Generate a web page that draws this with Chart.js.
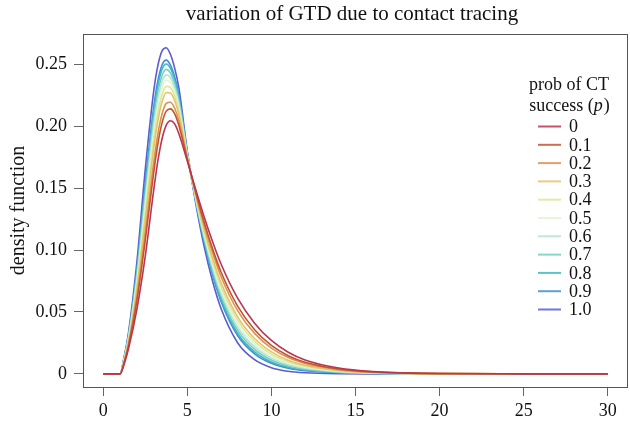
<!DOCTYPE html>
<html>
<head>
<meta charset="utf-8">
<script src="https://cdn.jsdelivr.net/npm/chart.js@4.4.1/dist/chart.umd.min.js"></script>
<style>
  html, body { margin: 0; padding: 0; background: #fff; }
  #grafica { display: block; }
</style>
</head>
<body>
<canvas id="grafica" width="630" height="423"></canvas>
<script>
// generation time distribution for several contact-tracing success probabilities
const tiempos = [0, 1, 1.25, 1.5, 2, 2.5, 3, 3.25, 3.5, 3.75, 4, 4.25, 4.5, 5, 5.5, 6, 6.5, 7, 8, 9, 10, 11, 12, 14, 16, 20, 25, 30];

const p00 = [0, 0, 0.008, 0.020, 0.052, 0.095, 0.148, 0.172, 0.190, 0.201, 0.2045, 0.202, 0.194, 0.172, 0.149, 0.127, 0.107, 0.089, 0.061, 0.041, 0.027, 0.0175, 0.0113, 0.0047, 0.0019, 0.0003, 0.00003, 0];
const p01 = [0, 0, 0.0091, 0.0223, 0.0588, 0.1076, 0.1624, 0.1859, 0.2028, 0.2123, 0.2141, 0.2101, 0.2007, 0.1734, 0.1470, 0.1227, 0.1012, 0.0825, 0.0545, 0.0357, 0.0230, 0.0147, 0.0094, 0.0039, 0.0016, 0.00025, 0.00003, 0];
const p02 = [0, 0, 0.0097, 0.0236, 0.0626, 0.1146, 0.1704, 0.1936, 0.2099, 0.2185, 0.2195, 0.2146, 0.2044, 0.1742, 0.1459, 0.1203, 0.0980, 0.0789, 0.0509, 0.0327, 0.0208, 0.0132, 0.0084, 0.0034, 0.0014, 0.00022, 0.00002, 0];
const p03 = [0, 0, 0.0105, 0.0255, 0.0680, 0.1244, 0.1816, 0.2043, 0.2198, 0.2273, 0.2270, 0.2209, 0.2095, 0.1754, 0.1444, 0.1169, 0.0936, 0.0739, 0.0459, 0.0286, 0.0178, 0.0110, 0.0069, 0.0028, 0.0011, 0.00017, 0.00002, 0];
const p04 = [0, 0, 0.0110, 0.0265, 0.0710, 0.1300, 0.1880, 0.2105, 0.2255, 0.2323, 0.2313, 0.2245, 0.2125, 0.1760, 0.1435, 0.1150, 0.0910, 0.0710, 0.0430, 0.0263, 0.0160, 0.0098, 0.0061, 0.0024, 0.0010, 0.00015, 0.00002, 0];
const p05 = [0, 0, 0.0115, 0.0275, 0.0740, 0.1356, 0.1944, 0.2167, 0.2312, 0.2373, 0.2355, 0.2281, 0.2155, 0.1766, 0.1426, 0.1131, 0.0884, 0.0681, 0.0401, 0.0239, 0.0142, 0.0086, 0.0053, 0.0021, 0.0008, 0.00013, 0.00001, 0];
const p06 = [0, 0, 0.0119, 0.0285, 0.0767, 0.1405, 0.2000, 0.2221, 0.2362, 0.2416, 0.2393, 0.2313, 0.2181, 0.1772, 0.1419, 0.1114, 0.0862, 0.0656, 0.0376, 0.0218, 0.0127, 0.0075, 0.0045, 0.0017, 0.0007, 0.0001, 0.00001, 0];
const p07 = [0, 0, 0.0123, 0.0294, 0.0794, 0.1454, 0.2056, 0.2274, 0.2411, 0.2460, 0.2430, 0.2344, 0.2206, 0.1778, 0.1411, 0.1097, 0.0840, 0.0631, 0.0351, 0.0198, 0.0112, 0.0064, 0.0038, 0.0014, 0.00055, 0.00008, 0.00001, 0];
const p08 = [0, 0, 0.0127, 0.0303, 0.0820, 0.1503, 0.2112, 0.2328, 0.2461, 0.2504, 0.2468, 0.2376, 0.2232, 0.1783, 0.1403, 0.1080, 0.0817, 0.0606, 0.0326, 0.0177, 0.0096, 0.0053, 0.0031, 0.0011, 0.0004, 0.00006, 0.00001, 0];
const p09 = [0, 0, 0.0130, 0.0309, 0.0839, 0.1538, 0.2152, 0.2367, 0.2496, 0.2535, 0.2494, 0.2398, 0.2251, 0.1787, 0.1398, 0.1068, 0.0801, 0.0588, 0.0308, 0.0162, 0.0085, 0.0046, 0.0026, 0.0009, 0.0003, 0.00005, 0.00001, 0];
const p10 = [0, 0, 0.014, 0.033, 0.090, 0.165, 0.228, 0.249, 0.261, 0.2635, 0.258, 0.247, 0.231, 0.180, 0.138, 0.103, 0.075, 0.053, 0.025, 0.0115, 0.005, 0.0021, 0.0009, 0.00015, 0.00002, 0, 0, 0];

const series = [p00, p01, p02, p03, p04, p05, p06, p07, p08, p09, p10];
const etiquetas = ['0', '0.1', '0.2', '0.3', '0.4', '0.5', '0.6', '0.7', '0.8', '0.9', '1.0'];
const colores = ['#bb3450', '#c0562e', '#dd9150', '#e6c26c', '#dde796', '#e2f3d6', '#b2e4d2', '#76cdc2', '#3db7c8', '#3f8dd2', '#5b5cd3'];

const xTicks = [0, 5, 10, 15, 20, 25, 30];
const yTicks = [0, 0.05, 0.10, 0.15, 0.20, 0.25];
const yTickLabels = ['0', '0.05', '0.10', '0.15', '0.20', '0.25'];

const titulo = 'variation of GTD due to contact tracing';
const tituloEje = 'density function';
const tituloLeyenda = ['prob of CT', 'success ('];

const FUENTE = '"Liberation Serif", "DejaVu Serif", serif';

// caja, titulo y leyenda dibujados a mano
const extras = {
    id: 'extras',
    afterDraw(chart) {
        const ctx = chart.ctx;
        const a = chart.chartArea;
        ctx.save();
        ctx.strokeStyle = '#555';
        ctx.lineWidth = 1;
        ctx.strokeRect(a.left + 0.5, a.top + 0.5, a.right - a.left - 1, a.bottom - a.top);

        ctx.fillStyle = '#111';
        ctx.font = '21px ' + FUENTE;
        ctx.textAlign = 'center';
        ctx.textBaseline = 'middle';
        ctx.fillText(titulo, 352, 14);

        // leyenda
        const cx = 569;
        ctx.font = '18px ' + FUENTE;
        ctx.fillText(tituloLeyenda[0], cx, 85);
        const w1 = ctx.measureText(tituloLeyenda[1]).width;
        ctx.font = 'italic 18px ' + FUENTE;
        const w2 = ctx.measureText('p').width;
        ctx.font = '18px ' + FUENTE;
        const w3 = ctx.measureText(')').width;
        let x0 = cx - (w1 + w2 + w3) / 2;
        ctx.textAlign = 'left';
        ctx.fillText(tituloLeyenda[1], x0, 106);
        ctx.font = 'italic 18px ' + FUENTE;
        ctx.fillText('p', x0 + w1, 106);
        ctx.font = '18px ' + FUENTE;
        ctx.fillText(')', x0 + w1 + w2 + 1, 106);

        for (let i = 0; i < etiquetas.length; i++) {
            const y = 126.5 + i * 18.3;
            ctx.strokeStyle = colores[i];
            ctx.globalAlpha = 0.85;
            ctx.lineWidth = 2;
            ctx.beginPath();
            ctx.moveTo(538, y);
            ctx.lineTo(561, y);
            ctx.stroke();
            ctx.globalAlpha = 1;
            ctx.fillStyle = '#111';
            ctx.fillText(etiquetas[i], 569, y + 1);
        }
        ctx.restore();
    }
};

function generarGrafica() {
    const ctx = document.getElementById('grafica').getContext('2d');

    const datasets = series.map((s, i) => ({
        label: etiquetas[i],
        data: tiempos.map((t, j) => ({ x: t, y: s[j] })),
        borderColor: colores[i],
        borderWidth: 1.6,
        pointRadius: 0,
        fill: false,
        cubicInterpolationMode: 'monotone'
    }));

    new Chart(ctx, {
        type: 'line',
        data: { datasets: datasets },
        options: {
            responsive: false,
            animation: false,
            devicePixelRatio: 1,
            layout: { padding: { top: 34, right: 2, left: 0, bottom: 0 } },
            plugins: { legend: { display: false }, tooltip: { enabled: false } },
            scales: {
                x: {
                    type: 'linear',
                    min: -1.2,
                    max: 31.2,
                    afterBuildTicks: (s) => { s.ticks = xTicks.map(v => ({ value: v })); },
                    afterFit: (s) => { s.height = 36; },
                    ticks: {
                        autoSkip: false,
                        maxRotation: 0,
                        padding: 4,
                        color: '#111',
                        font: { family: FUENTE, size: 18 },
                        callback: (v) => String(v)
                    },
                    grid: { drawOnChartArea: false, drawTicks: true, tickLength: 9, color: '#666' },
                    border: { display: false }
                },
                y: {
                    min: -0.0106,
                    max: 0.2746,
                    afterBuildTicks: (s) => { s.ticks = yTicks.map(v => ({ value: v })); },
                    afterFit: (s) => { s.width = 83; },
                    ticks: {
                        autoSkip: false,
                        padding: 7,
                        color: '#111',
                        font: { family: FUENTE, size: 18 },
                        callback: (v) => yTickLabels[yTicks.indexOf(v)]
                    },
                    grid: { drawOnChartArea: false, drawTicks: true, tickLength: 9, color: '#666' },
                    border: { display: false },
                    title: {
                        display: true,
                        text: tituloEje,
                        color: '#111',
                        font: { family: FUENTE, size: 20 },
                        padding: { top: 7, bottom: 0 }
                    }
                }
            }
        },
        plugins: [extras]
    });
}

generarGrafica();
</script>
</body>
</html>
